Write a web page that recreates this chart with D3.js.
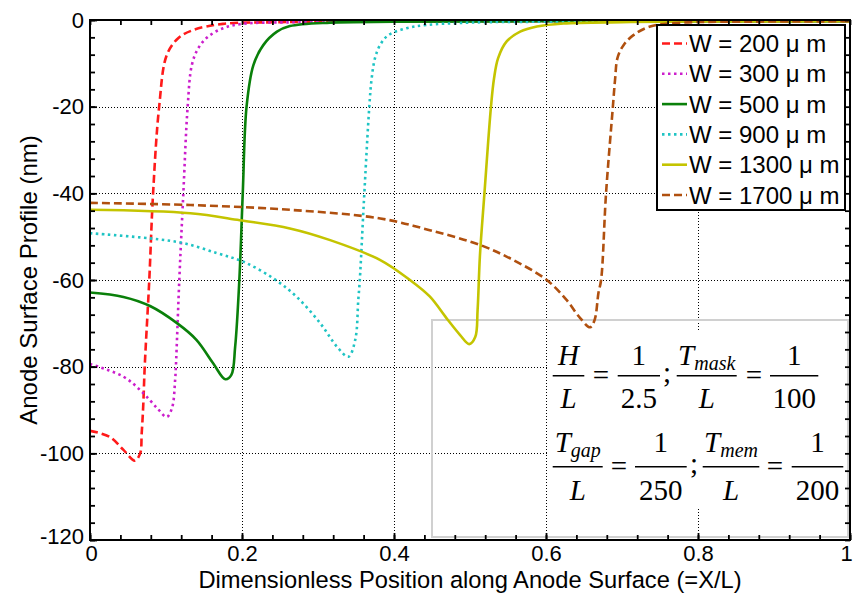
<!DOCTYPE html>
<html><head><meta charset="utf-8">
<script src="https://cdn.jsdelivr.net/npm/d3@7"></script>
<style>body{margin:0;background:#fff}svg{display:block}</style>
</head><body>
<svg id="chart" width="854" height="594"></svg>
<script>
// ---------- data ----------
const xTickValues = [0, 0.2, 0.4, 0.6, 0.8, 1];
const xTickLabels = ["0", "0.2", "0.4", "0.6", "0.8", "1"];
const yTickValues = [0, -20, -40, -60, -80, -100, -120];
const yTickLabels = ["0", "-20", "-40", "-60", "-80", "-100", "-120"];
const seriesNames = ["W = 200 \u03bc m", "W = 300 \u03bc m", "W = 500 \u03bc m", "W = 900 \u03bc m", "W = 1300 \u03bc m", "W = 1700 \u03bc m"];

const w200X = [0, 0.026, 0.044, 0.059, 0.066, 0.068, 0.070, 0.072, 0.078, 0.083, 0.091, 0.101, 0.116, 0.136, 0.175, 0.25, 0.35, 0.5, 0.7, 1.0];
const w200Y = [-94.8, -96.2, -99.2, -101.7, -100.0, -95.4, -89.2, -80, -60, -40, -20, -8.1, -4.2, -2.3, -0.9, -0.5, -0.35, -0.3, -0.3, -0.3];

const w300X = [0, 0.044, 0.070, 0.088, 0.101, 0.108, 0.112, 0.113, 0.1175, 0.1228, 0.1285, 0.134, 0.1425, 0.155, 0.175, 0.2, 0.28, 0.4, 0.6, 1.0];
const w300Y = [-79.4, -82.3, -86.1, -89.5, -91.6, -89.5, -83.1, -80, -60, -40, -20, -10.4, -6.5, -3.9, -1.9, -0.9, -0.5, -0.35, -0.3, -0.3];

const w500X = [0, 0.044, 0.079, 0.114, 0.140, 0.162, 0.178, 0.186, 0.191, 0.1965, 0.201, 0.206, 0.215, 0.228, 0.246, 0.263, 0.316, 0.4, 0.6, 1.0];
const w500Y = [-62.9, -63.9, -66, -69.9, -73.8, -79.2, -82.9, -81.9, -75.4, -60, -40, -20, -10.4, -5.8, -2.7, -1.4, -0.6, -0.4, -0.3, -0.3];

const w900X = [0, 0.079, 0.123, 0.167, 0.202, 0.241, 0.272, 0.303, 0.325, 0.340, 0.349, 0.353, 0.355, 0.3605, 0.3675, 0.3706, 0.375, 0.3816, 0.3925, 0.4167, 0.443, 0.5, 0.6, 1.0];
const w900Y = [-49.2, -50.4, -51.5, -53.8, -55.8, -59.6, -63.9, -70, -75.4, -77.7, -73.8, -64.6, -60, -41.5, -20, -13.5, -8.8, -5.8, -3.5, -1.9, -1.15, -0.6, -0.4, -0.3];

const w1300X = [0, 0.132, 0.197, 0.263, 0.316, 0.382, 0.421, 0.447, 0.469, 0.487, 0.499, 0.507, 0.510, 0.513, 0.519, 0.5276, 0.5316, 0.537, 0.548, 0.566, 0.588, 0.623, 0.7, 0.8, 1.0];
const w1300Y = [-43.8, -44.6, -46.2, -48.1, -50.8, -55.4, -60, -63.8, -68.8, -72.7, -74.8, -73.1, -66.9, -54.6, -40, -20, -13.5, -8.8, -5, -2.7, -1.5, -0.8, -0.5, -0.35, -0.3];

const w1700X = [0, 0.132, 0.263, 0.382, 0.447, 0.513, 0.557, 0.601, 0.627, 0.645, 0.658, 0.664, 0.669, 0.6725, 0.679, 0.688, 0.691, 0.694, 0.702, 0.715, 0.737, 0.78, 0.85, 1.0];
const w1700Y = [-42.2, -42.7, -43.8, -45.8, -48.5, -51.9, -55.4, -60, -64.6, -68.8, -70.9, -69.2, -63, -60, -40, -20, -13.5, -8.8, -5.8, -3.5, -1.5, -0.6, -0.4, -0.3];

const seriesX = [w200X, w300X, w500X, w900X, w1300X, w1700X];
const seriesY = [w200Y, w300Y, w500Y, w900Y, w1300Y, w1700Y];

// ---------- styles ----------
const colors = ["#ff1a1a", "#cc1ecc", "#0a800a", "#1fc4c4", "#c4c400", "#b0500f"];
const dashes = ["8,4", "2.5,3.5", null, "2.5,3.5", null, "8,4"];

// ---------- layout ----------
const svg = d3.select("#chart");
const L = 90, R = 850, T = 20, B = 540;
const x = d3.scaleLinear().domain([0, 1]).range([L, R]);
const y = d3.scaleLinear().domain([-120, 0]).range([B, T]);
const font = "'Liberation Sans', Arial, sans-serif";

svg.append("rect").attr("width", 854).attr("height", 594).attr("fill", "#fff");

// grid
const grid = svg.append("g").attr("stroke", "#000").attr("stroke-width", 1).attr("stroke-dasharray", "1,2");
xTickValues.filter(v => v > 0 && v < 1).forEach(v => {
  grid.append("line").attr("x1", Math.round(x(v)) + 0.5).attr("x2", Math.round(x(v)) + 0.5).attr("y1", T).attr("y2", B);
});
yTickValues.filter(v => v < 0 && v > -120).forEach(v => {
  grid.append("line").attr("y1", Math.round(y(v)) + 0.5).attr("y2", Math.round(y(v)) + 0.5).attr("x1", L).attr("x2", R);
});

// formula box
svg.append("rect").attr("x", 432).attr("y", 320).attr("width", 416).attr("height", 217)
  .attr("fill", "none").attr("stroke", "#d0d0d0").attr("stroke-width", 2);
svg.append("rect").attr("x", 549).attr("y", 330).attr("width", 298).attr("height", 178).attr("fill", "#fff");

const fg = svg.append("g").attr("font-family", "'Liberation Serif', 'Times New Roman', serif").attr("font-size", 29).attr("fill", "#000");
function frac(x1, x2, barY, numBase, denBase, num, sub, den, numItalic, denItalic) {
  const cx = (x1 + x2) / 2;
  fg.append("line").attr("x1", x1).attr("x2", x2).attr("y1", barY).attr("y2", barY).attr("stroke", "#000").attr("stroke-width", 1.6);
  const t = fg.append("text").attr("x", cx).attr("y", numBase).attr("text-anchor", "middle");
  t.append("tspan").attr("font-style", numItalic ? "italic" : "normal").text(num);
  if (sub) t.append("tspan").attr("font-style", "italic").attr("font-size", 20).attr("dy", 5).text(sub);
  fg.append("text").attr("x", cx).attr("y", denBase).attr("text-anchor", "middle")
    .attr("font-style", denItalic ? "italic" : "normal").text(den);
}
function sym(cx, base, s) {
  fg.append("text").attr("x", cx).attr("y", base).attr("text-anchor", "middle").text(s);
}
// row 1
frac(552.7, 584.3, 375.7, 365, 408.3, "H", null, "L", true, true);
sym(601, 385, "=");
frac(617.7, 660, 375.7, 365, 408.3, "1", null, "2.5", false, false);
sym(667, 382, ";");
frac(676.7, 736.7, 375.7, 365, 408.3, "T", "mask", "L", true, true);
sym(754, 385, "=");
frac(770, 818.3, 375.7, 365, 408.3, "1", null, "100", false, false);
// row 2
frac(552.7, 602.7, 466.7, 452, 500, "T", "gap", "L", true, true);
sym(619, 476, "=");
frac(635, 686.7, 466.7, 452, 500, "1", null, "250", false, false);
sym(694, 473, ";");
frac(702.7, 759.3, 466.7, 452, 500, "T", "mem", "L", true, true);
sym(775, 476, "=");
frac(791.7, 843.3, 466.7, 452, 500, "1", null, "200", false, false);

// curves
svg.append("clipPath").attr("id", "clip").append("rect").attr("x", L).attr("y", T - 2).attr("width", R - L).attr("height", B - T + 2);
const line = d3.line().x(d => x(d[0])).y(d => y(d[1])).curve(d3.curveCatmullRom.alpha(0.5));
const cg = svg.append("g").attr("clip-path", "url(#clip)");
seriesX.forEach((xs, i) => {
  const pts = xs.map((v, j) => [v, seriesY[i][j]]);
  cg.append("path").datum(pts).attr("d", line).attr("fill", "none")
    .attr("stroke", colors[i]).attr("stroke-width", 2.6)
    .attr("stroke-dasharray", dashes[i]).attr("stroke-linejoin", "round");
});

// axes
function styleAxis(g) {
  g.selectAll("path.domain").remove();
  g.selectAll("line").attr("stroke", "#000").attr("stroke-width", 1.8);
  g.selectAll("text").attr("font-family", font).attr("font-size", 22).attr("fill", "#000");
}
const xMinor = d3.range(0, 1.0001, 0.04);
const yMinor = d3.range(-120, 0.0001, 4);
const xAxisG = svg.append("g").attr("transform", `translate(0,${B})`)
  .call(d3.axisBottom(x).tickValues(xTickValues).tickFormat((d, i) => xTickLabels[i]).tickSize(-7).tickSizeOuter(0).tickPadding(5)).call(styleAxis);
xAxisG.selectAll("text").attr("dx", d => d === 1 ? -4 : (d === 0 ? 1 : 0));
svg.append("g").attr("transform", `translate(0,${B})`)
  .call(d3.axisBottom(x).tickValues(xMinor).tickFormat("").tickSize(-5).tickSizeOuter(0)).call(styleAxis);
svg.append("g").attr("transform", `translate(0,${T})`)
  .call(d3.axisTop(x).tickValues(xMinor).tickFormat("").tickSize(-5).tickSizeOuter(0)).call(styleAxis);
const yAxisG = svg.append("g").attr("transform", `translate(${L},0)`)
  .call(d3.axisLeft(y).tickValues(yTickValues).tickFormat((d, i) => yTickLabels[i]).tickSize(-7).tickSizeOuter(0).tickPadding(6)).call(styleAxis);
yAxisG.selectAll("text").attr("dy", d => d === -120 ? "0.15em" : "0.32em");
svg.append("g").attr("transform", `translate(${L},0)`)
  .call(d3.axisLeft(y).tickValues(yMinor).tickFormat("").tickSize(-5).tickSizeOuter(0)).call(styleAxis);
svg.append("g").attr("transform", `translate(${R},0)`)
  .call(d3.axisRight(y).tickValues(yMinor).tickFormat("").tickSize(-5).tickSizeOuter(0)).call(styleAxis);
svg.append("rect").attr("x", L).attr("y", T).attr("width", R - L).attr("height", B - T)
  .attr("fill", "none").attr("stroke", "#000").attr("stroke-width", 2);

// legend
const lg = svg.append("g");
lg.append("rect").attr("x", 657).attr("y", 25).attr("width", 188).attr("height", 185)
  .attr("fill", "#fff").attr("stroke", "#000").attr("stroke-width", 2);
seriesNames.forEach((name, i) => {
  const cy = 43.5 + i * 30.3;
  lg.append("line").attr("x1", 662).attr("x2", 687).attr("y1", cy).attr("y2", cy)
    .attr("stroke", colors[i]).attr("stroke-width", 2.6).attr("stroke-dasharray", dashes[i]);
  lg.append("text").attr("x", 689).attr("y", cy).attr("dy", "0.36em")
    .attr("font-family", font).attr("font-size", 24).attr("fill", "#000").text(name);
});

// titles
svg.append("text").attr("x", (L + R) / 2).attr("y", 588).attr("text-anchor", "middle")
  .attr("font-family", font).attr("font-size", 23.7).attr("fill", "#000")
  .text("Dimensionless Position along Anode Surface (=X/L)");
svg.append("text").attr("transform", `translate(37,${(T + B) / 2}) rotate(-90)`).attr("text-anchor", "middle")
  .attr("font-family", font).attr("font-size", 24).attr("fill", "#000")
  .text("Anode Surface Profile (nm)");
</script>
</body></html>
